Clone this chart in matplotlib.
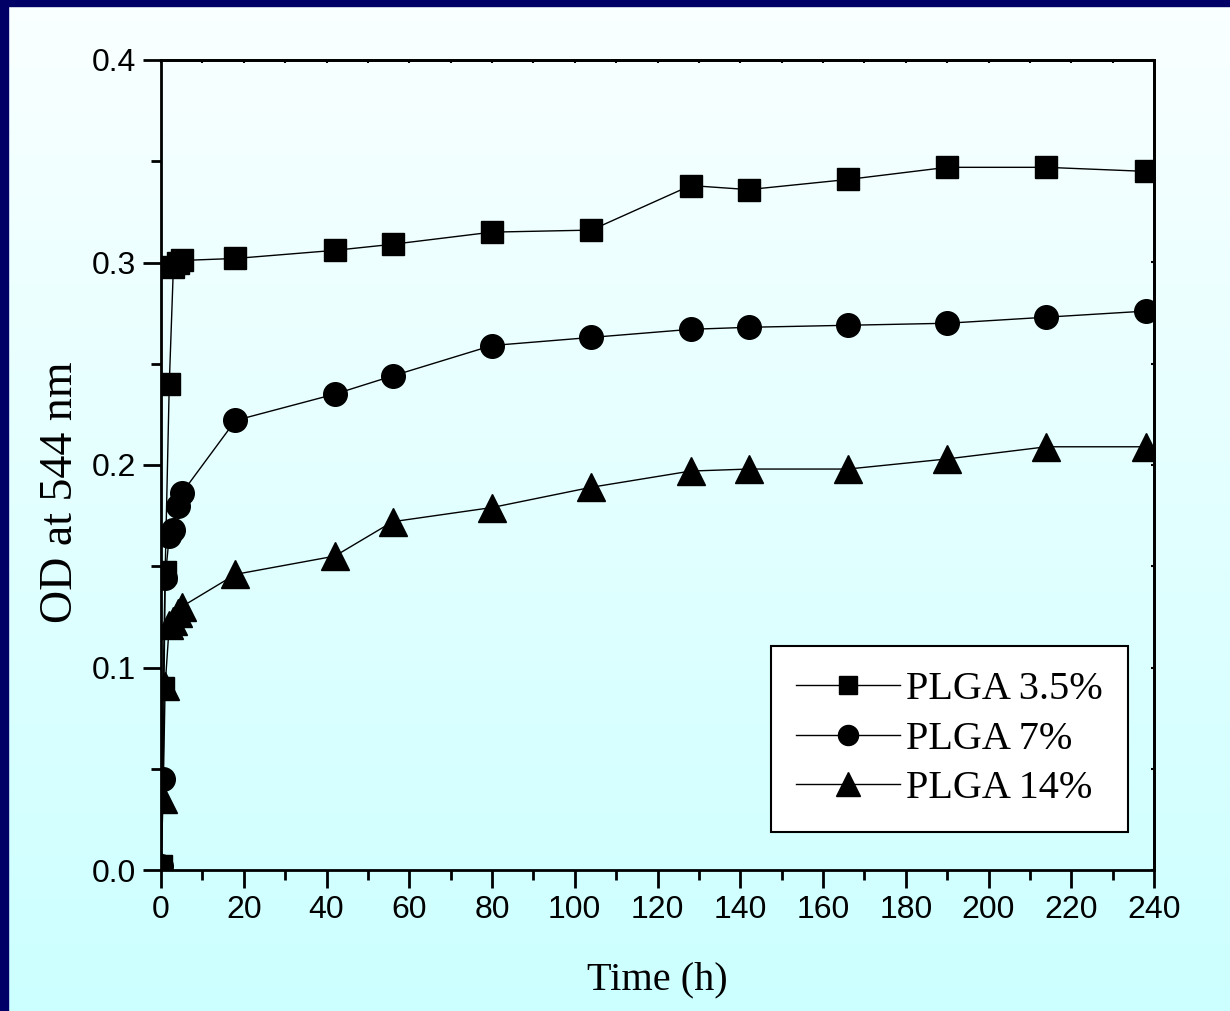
import numpy as np
import matplotlib
matplotlib.use("Agg")
import matplotlib.pyplot as plt
from matplotlib.ticker import MultipleLocator

time_h = [0, 0.5, 1, 2, 3, 4, 5, 18, 42, 56, 80, 104, 128, 142, 166, 190, 214, 238]
plga_35 = [0.002, 0.09, 0.147, 0.240, 0.298, 0.300, 0.301, 0.302, 0.306, 0.309, 0.315,
           0.316, 0.338, 0.336, 0.341, 0.347, 0.347, 0.345]
plga_7 = [0.002, 0.045, 0.144, 0.165, 0.168, 0.180, 0.186, 0.222, 0.235, 0.244, 0.259,
          0.263, 0.267, 0.268, 0.269, 0.270, 0.273, 0.276]
plga_14 = [0.002, 0.035, 0.091, 0.121, 0.123, 0.127, 0.130, 0.146, 0.155, 0.172, 0.179,
           0.189, 0.197, 0.198, 0.198, 0.203, 0.209, 0.209]
labels = ["PLGA 3.5%", "PLGA 7%", "PLGA 14%"]
x_ticks = list(range(0, 241, 20))
y_ticks = [0.0, 0.1, 0.2, 0.3, 0.4]

W, H = 1230, 1011
fig = plt.figure(figsize=(W / 100, H / 100), dpi=100)

# background gradient
bg = fig.add_axes([0, 0, 1, 1], zorder=-10)
grad = np.linspace(0, 1, 256).reshape(-1, 1)
top = np.array([0.98, 1.0, 1.0])
bot = np.array([0.80, 1.0, 1.0])
img = top[None, None, :] * (1 - grad[:, :, None]) + bot[None, None, :] * grad[:, :, None]
bg.imshow(img, aspect="auto", extent=[0, 1, 0, 1], origin="upper")
bg.add_patch(plt.Rectangle((0, 0), 8 / W, 1, color="#000066", transform=bg.transAxes))
bg.add_patch(plt.Rectangle((0, 1 - 6 / H), 1, 6 / H, color="#000066", transform=bg.transAxes))
bg.set_xlim(0, 1); bg.set_ylim(0, 1)
bg.axis("off")

ax = fig.add_axes([161 / W, 1 - 870 / H, (1154 - 161) / W, (870 - 60) / H])
ax.patch.set_alpha(0)

kw = dict(color="black", linewidth=1.0)
ax.plot(time_h, plga_35, marker="s", markersize=16, label=labels[0], **kw)
ax.plot(time_h, plga_7, marker="o", markersize=17, label=labels[1], **kw)
ax.plot(time_h, plga_14, marker="^", markersize=20, label=labels[2], **kw)

ax.set_xlim(0, 240)
ax.set_ylim(0, 0.4)
ax.set_xticks(x_ticks)
ax.set_yticks(y_ticks)
ax.set_yticklabels([f"{v:.1f}" for v in y_ticks])
ax.xaxis.set_minor_locator(MultipleLocator(10))
ax.yaxis.set_minor_locator(MultipleLocator(0.05))
for s in ax.spines.values():
    s.set_linewidth(2)
ax.tick_params(which="major", direction="out", length=13, width=2, labelsize=23, pad=5,
               top=False, right=False)
ax.tick_params(which="minor", direction="out", length=7, width=2, top=False, right=False)
for lab in ax.get_xticklabels() + ax.get_yticklabels():
    lab.set_family("Liberation Sans")

# tiny inside ticks on top and right spines
sec_x = ax.secondary_xaxis("top")
sec_x.set_xticks(x_ticks); sec_x.set_xticklabels([])
sec_x.xaxis.set_minor_locator(MultipleLocator(10))
sec_x.tick_params(which="both", direction="in", length=2, width=1.5)
sec_x.spines["top"].set_linewidth(2)
sec_y = ax.secondary_yaxis("right")
sec_y.set_yticks(y_ticks); sec_y.set_yticklabels([])
sec_y.yaxis.set_minor_locator(MultipleLocator(0.05))
sec_y.tick_params(which="both", direction="in", length=2, width=1.5)
sec_y.spines["right"].set_linewidth(2)

ax.set_xlabel("Time (h)", family="Liberation Serif", fontsize=29, labelpad=26)
ax.set_ylabel("OD at 544 nm", family="Liberation Serif", fontsize=33)
ax.yaxis.set_label_coords(-0.08, 0.467)

leg = ax.legend(loc="lower right", bbox_to_anchor=(0.974, 0.047), borderaxespad=0,
                prop={"family": "Liberation Serif", "size": 29}, frameon=True,
                fancybox=False, edgecolor="black", facecolor="white", framealpha=1,
                handlelength=2.6, handletextpad=0.15, labelspacing=0.3,
                borderpad=0.62, markerscale=0.85)
leg.get_frame().set_linewidth(1.5)

fig.savefig("out.png", dpi=100)
